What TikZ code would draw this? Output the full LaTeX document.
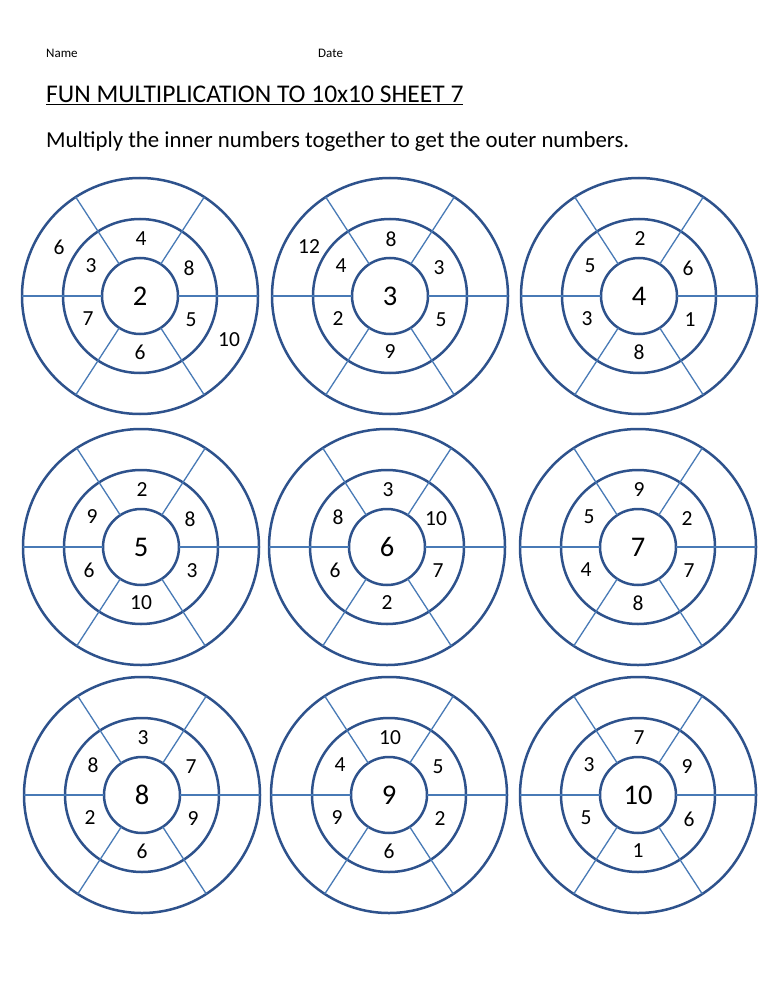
\documentclass[tikz,border=0pt]{standalone}
\usepackage{fontspec}
\setmainfont{Carlito}
\usetikzlibrary{calc}
\definecolor{ringblue}{RGB}{46,82,140}
\definecolor{spokeblue}{RGB}{72,122,182}
\tikzset{
  ringc/.style={circle, draw=ringblue, line width=2.5pt, inner sep=0pt, outer sep=0pt, fill=none},
  outerc/.style={ringc, minimum size=236pt},
  midc/.style={ringc, minimum size=154pt},
  innc/.style={ringc, minimum size=76pt},
  spokeline/.style={draw=spokeblue, line width=1.3pt},
  centernum/.style={inner sep=0pt, font=\fontsize{28.5}{30}\selectfont},
  ringnum/.style={inner sep=0pt, font=\fontsize{21.5}{23}\selectfont},
  hdr/.style={inner sep=0pt, anchor=base west}
}
\newcommand{\wheel}[9]{%
  \node[outerc] (#1o) at #2 {};
  \node[midc] (#1m) at #2 {};
  \node[innc] (#1i) at #2 {};
  \foreach \a in {0,57,123,180,237,303} {\draw[spokeline] (#1i.\a) -- (#1o.\a);}
  \node[centernum] (#1c) at #2 {#3};
  \node[ringnum] (#1t) at ($(#1c)+(1,-57)$) {#4};
  \node[ringnum] (#1ur) at ($(#1c)+(49,-28)$) {#5};
  \node[ringnum] (#1lr) at ($(#1c)+(51,24)$) {#6};
  \node[ringnum] (#1b) at ($(#1c)+(0,56)$) {#7};
  \node[ringnum] (#1ll) at ($(#1c)+(-52,23)$) {#8};
  \node[ringnum] (#1ul) at ($(#1c)+(-49,-30)$) {#9};
}
\begin{document}
\begin{tikzpicture}[x=1pt,y=-1pt]
\useasboundingbox[fill=white] (0,0) rectangle (772,1000);
\node[hdr, font=\fontsize{13}{15}\selectfont] (name) at (46,58) {Name};
\node[hdr, font=\fontsize{13}{15}\selectfont] (date) at (318,58) {Date};
\node[hdr, font=\fontsize{25.5}{28}\selectfont] (title) at (46,103) {\underline{FUN MULTIPLICATION TO 10x10 SHEET 7}};
\node[hdr, font=\fontsize{22.8}{26}\selectfont] (sub) at (46,148) {Multiply the inner numbers together to get the outer numbers.};
\wheel{wa}{(140,296)}{2}{4}{8}{5}{6}{7}{3}
\wheel{wb}{(390,296)}{3}{8}{3}{5}{9}{2}{4}
\wheel{wc}{(639,296)}{4}{2}{6}{1}{8}{3}{5}
\wheel{wd}{(141,547)}{5}{2}{8}{3}{10}{6}{9}
\wheel{we}{(387,547)}{6}{3}{10}{7}{2}{6}{8}
\wheel{wf}{(638,547)}{7}{9}{2}{7}{8}{4}{5}
\wheel{wg}{(142,795)}{8}{3}{7}{9}{6}{2}{8}
\wheel{wh}{(389,795)}{9}{10}{5}{2}{6}{9}{4}
\wheel{wi}{(638,795)}{10}{7}{9}{6}{1}{5}{3}
\node[ringnum] (wax1) at ($(wac)+(-81,-49)$) {6};
\node[ringnum] (wax2) at ($(wac)+(89,44)$) {10};
\node[ringnum] (wbx1) at ($(wbc)+(-81,-49)$) {12};
\end{tikzpicture}
\end{document}
